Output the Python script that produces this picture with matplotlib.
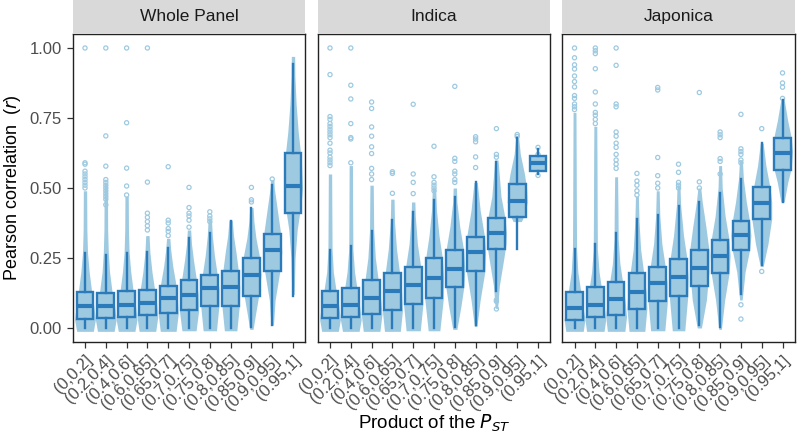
import matplotlib
matplotlib.use("Agg")
import matplotlib.pyplot as plt
import numpy as np

plt.rcParams['font.family'] = ['Liberation Sans', 'DejaVu Sans']

panels = ["Whole Panel", "Indica", "Japonica"]
cats = ["(0,0.2]", "(0.2,0.4]", "(0.4,0.6]", "(0.6,0.65]", "(0.65,0.7]", "(0.7,0.75]",
        "(0.75,0.8]", "(0.8,0.85]", "(0.85,0.9]", "(0.9,0.95]", "(0.95,1]"]

# box stats per panel
q1 = [[0.033, 0.035, 0.039, 0.045, 0.053, 0.065, 0.077, 0.077, 0.115, 0.202, 0.412],
      [0.036, 0.041, 0.050, 0.065, 0.087, 0.107, 0.148, 0.202, 0.283, 0.398, 0.561],
      [0.030, 0.039, 0.047, 0.068, 0.095, 0.113, 0.151, 0.196, 0.279, 0.390, 0.566]]
med = [[0.077, 0.077, 0.082, 0.091, 0.107, 0.119, 0.142, 0.145, 0.190, 0.277, 0.507],
       [0.079, 0.083, 0.107, 0.133, 0.152, 0.178, 0.212, 0.271, 0.338, 0.453, 0.588],
       [0.071, 0.082, 0.103, 0.127, 0.160, 0.182, 0.216, 0.258, 0.333, 0.447, 0.626]]
q3 = [[0.128, 0.125, 0.133, 0.136, 0.151, 0.170, 0.190, 0.205, 0.250, 0.335, 0.626],
      [0.133, 0.142, 0.170, 0.198, 0.219, 0.249, 0.279, 0.326, 0.392, 0.514, 0.614],
      [0.130, 0.145, 0.166, 0.196, 0.219, 0.246, 0.279, 0.315, 0.383, 0.505, 0.677]]
wlo = [[0.0, 0.0, 0.0, 0.0, 0.0, 0.0, 0.0, 0.0, 0.004, 0.012, 0.116],
       [0.0, 0.0, 0.0, 0.0, 0.0, 0.0, 0.004, 0.012, 0.133, 0.283, 0.550],
       [0.0, 0.0, 0.0, 0.0, 0.0, 0.0, 0.010, 0.004, 0.122, 0.225, 0.449]]
whi = [[0.267, 0.259, 0.267, 0.271, 0.285, 0.320, 0.340, 0.383, 0.427, 0.510, 0.944],
       [0.277, 0.293, 0.348, 0.386, 0.415, 0.457, 0.469, 0.522, 0.594, 0.677, 0.641],
       [0.281, 0.300, 0.341, 0.388, 0.404, 0.436, 0.451, 0.481, 0.531, 0.659, 0.813]]

outliers = [
    [[1.0, 0.59, 0.585, 0.56, 0.55, 0.54, 0.53, 0.52, 0.51, 0.50],
     [1.0, 0.686, 0.578, 0.53, 0.52, 0.51, 0.50, 0.49, 0.48, 0.47, 0.46, 0.44],
     [1.0, 0.733, 0.571, 0.507, 0.475],
     [1.0, 0.521, 0.41, 0.395, 0.38, 0.365, 0.35],
     [0.576, 0.385, 0.375, 0.355, 0.345, 0.33],
     [0.502, 0.43, 0.41, 0.40, 0.385, 0.36],
     [0.415, 0.40, 0.39, 0.38],
     [],
     [0.502, 0.458, 0.45],
     [0.532],
     []],
    [[1.0, 0.905, 0.755, 0.745, 0.73, 0.72, 0.71, 0.70, 0.69, 0.68, 0.66, 0.635, 0.625, 0.61, 0.60, 0.59, 0.58],
     [1.0, 0.867, 0.818, 0.73, 0.68, 0.675, 0.59],
     [0.807, 0.784, 0.718, 0.685, 0.647, 0.623, 0.57, 0.55, 0.53],
     [0.558, 0.552, 0.481],
     [0.799, 0.55, 0.52, 0.48],
     [0.649, 0.54, 0.52, 0.51, 0.50, 0.49],
     [0.863, 0.606, 0.595, 0.56, 0.55, 0.53, 0.52],
     [0.683, 0.675, 0.665, 0.611, 0.573],
     [0.712, 0.62, 0.61, 0.10, 0.095, 0.068],
     [0.691, 0.684],
     [0.645, 0.62, 0.60, 0.565, 0.545]],
    [[1.0, 0.965, 0.94, 0.925, 0.90, 0.88, 0.861, 0.83, 0.82, 0.80, 0.79, 0.78],
     [1.0, 0.99, 0.98, 0.926, 0.843, 0.80, 0.77, 0.76, 0.745, 0.73],
     [1.0, 0.938, 0.80, 0.79, 0.70, 0.685, 0.66, 0.645, 0.62, 0.60, 0.585, 0.57],
     [0.552, 0.525, 0.51, 0.49, 0.475],
     [0.859, 0.85, 0.609, 0.544, 0.517, 0.50],
     [0.585, 0.556, 0.52, 0.51, 0.50],
     [0.841, 0.522, 0.50],
     [0.70, 0.69, 0.68, 0.605, 0.595, 0.55],
     [0.763, 0.64, 0.63, 0.62, 0.60, 0.59, 0.083, 0.032],
     [0.712, 0.202],
     [0.911, 0.875, 0.86, 0.82]],
]

# violin outlines: value levels and half widths
viol_y = [
    [[-0.012, 0.03, 0.08, 0.13, 0.2, 0.27, 0.35, 0.49],
     [-0.012, 0.03, 0.08, 0.13, 0.2, 0.27, 0.35, 0.52],
     [-0.012, 0.03, 0.08, 0.13, 0.2, 0.27, 0.35, 0.47],
     [-0.012, 0.04, 0.09, 0.14, 0.2, 0.27, 0.33],
     [-0.012, 0.05, 0.11, 0.16, 0.22, 0.28, 0.32],
     [-0.01, 0.06, 0.12, 0.17, 0.24, 0.30, 0.35],
     [-0.01, 0.08, 0.14, 0.19, 0.26, 0.33, 0.39],
     [-0.01, 0.08, 0.145, 0.20, 0.27, 0.33, 0.385],
     [-0.005, 0.05, 0.12, 0.19, 0.25, 0.32, 0.38, 0.43],
     [0.01, 0.10, 0.20, 0.27, 0.33, 0.42, 0.50, 0.53],
     [0.12, 0.25, 0.35, 0.45, 0.50, 0.60, 0.70, 0.80, 0.90, 0.97]],
    [[-0.012, 0.03, 0.08, 0.13, 0.2, 0.28, 0.4, 0.55],
     [-0.012, 0.03, 0.08, 0.14, 0.2, 0.28, 0.4, 0.58],
     [-0.012, 0.05, 0.10, 0.17, 0.25, 0.35, 0.51],
     [-0.012, 0.06, 0.13, 0.20, 0.28, 0.38, 0.46],
     [-0.01, 0.08, 0.15, 0.22, 0.30, 0.40, 0.45],
     [-0.01, 0.10, 0.18, 0.25, 0.33, 0.42, 0.50],
     [-0.005, 0.08, 0.15, 0.21, 0.28, 0.36, 0.45, 0.50],
     [0.005, 0.10, 0.20, 0.27, 0.33, 0.42, 0.52],
     [0.07, 0.15, 0.25, 0.30, 0.34, 0.39, 0.47, 0.60],
     [0.38, 0.41, 0.45, 0.50, 0.55, 0.62, 0.68],
     [0.55, 0.64]],
    [[-0.012, 0.03, 0.07, 0.13, 0.2, 0.28, 0.4, 0.6, 0.77],
     [-0.012, 0.03, 0.08, 0.14, 0.2, 0.28, 0.4, 0.6, 0.72],
     [-0.012, 0.04, 0.09, 0.16, 0.23, 0.32, 0.42, 0.54],
     [-0.012, 0.07, 0.13, 0.20, 0.28, 0.38, 0.47],
     [-0.01, 0.09, 0.16, 0.22, 0.30, 0.40, 0.49],
     [-0.01, 0.11, 0.18, 0.25, 0.33, 0.44, 0.51],
     [0.0, 0.10, 0.20, 0.28, 0.36, 0.45, 0.50],
     [-0.005, 0.10, 0.20, 0.26, 0.32, 0.40, 0.50, 0.58],
     [0.10, 0.20, 0.28, 0.33, 0.38, 0.45, 0.53, 0.60],
     [0.22, 0.30, 0.39, 0.45, 0.50, 0.58, 0.66],
     [0.45, 0.52, 0.57, 0.63, 0.68, 0.74, 0.82]],
]
viol_w = [
    [[0.40, 0.5, 0.42, 0.32, 0.2, 0.12, 0.09, 0.08],
     [0.40, 0.5, 0.42, 0.30, 0.18, 0.12, 0.09, 0.08],
     [0.40, 0.5, 0.43, 0.32, 0.2, 0.12, 0.09, 0.08],
     [0.40, 0.5, 0.44, 0.34, 0.22, 0.12, 0.08],
     [0.38, 0.48, 0.44, 0.36, 0.22, 0.12, 0.08],
     [0.34, 0.46, 0.44, 0.36, 0.22, 0.12, 0.08],
     [0.32, 0.44, 0.44, 0.36, 0.22, 0.12, 0.08],
     [0.30, 0.42, 0.44, 0.38, 0.26, 0.14, 0.08],
     [0.08, 0.2, 0.36, 0.46, 0.40, 0.22, 0.12, 0.08],
     [0.06, 0.14, 0.36, 0.46, 0.42, 0.25, 0.1, 0.08],
     [0.06, 0.1, 0.2, 0.40, 0.46, 0.40, 0.25, 0.15, 0.09, 0.08]],
    [[0.40, 0.5, 0.42, 0.30, 0.16, 0.1, 0.09, 0.08],
     [0.40, 0.5, 0.42, 0.30, 0.18, 0.1, 0.09, 0.08],
     [0.40, 0.5, 0.44, 0.32, 0.18, 0.1, 0.08],
     [0.38, 0.48, 0.44, 0.34, 0.2, 0.1, 0.08],
     [0.34, 0.46, 0.45, 0.36, 0.2, 0.1, 0.08],
     [0.28, 0.44, 0.46, 0.40, 0.24, 0.12, 0.08],
     [0.10, 0.30, 0.44, 0.48, 0.42, 0.24, 0.1, 0.08],
     [0.06, 0.22, 0.44, 0.48, 0.42, 0.22, 0.08],
     [0.06, 0.14, 0.36, 0.46, 0.48, 0.42, 0.22, 0.08],
     [0.20, 0.38, 0.48, 0.45, 0.35, 0.15, 0.07],
     [0.04, 0.04]],
    [[0.42, 0.5, 0.42, 0.30, 0.16, 0.1, 0.09, 0.08, 0.07],
     [0.42, 0.5, 0.42, 0.30, 0.18, 0.1, 0.09, 0.08, 0.07],
     [0.42, 0.5, 0.44, 0.32, 0.18, 0.1, 0.09, 0.07],
     [0.38, 0.48, 0.44, 0.32, 0.18, 0.1, 0.07],
     [0.34, 0.46, 0.45, 0.36, 0.2, 0.1, 0.07],
     [0.30, 0.44, 0.46, 0.40, 0.24, 0.1, 0.07],
     [0.10, 0.34, 0.46, 0.46, 0.32, 0.14, 0.07],
     [0.06, 0.22, 0.44, 0.48, 0.42, 0.24, 0.1, 0.07],
     [0.06, 0.20, 0.42, 0.48, 0.42, 0.26, 0.12, 0.07],
     [0.07, 0.30, 0.48, 0.48, 0.40, 0.20, 0.07],
     [0.08, 0.25, 0.42, 0.48, 0.42, 0.25, 0.07]],
]

light = "#9ecae1"
dark = "#2b7bba"

fig = plt.figure(figsize=(7.97, 4.38), dpi=100)
lefts = [0.091, 0.3984, 0.7052]
w, b, h = 0.2923, 0.2192, 0.7032
xs = np.arange(1, len(cats) + 1)

for p, name in enumerate(panels):
    ax = fig.add_axes([lefts[p], b, w, h])
    for i in range(len(cats)):
        vy = np.array(viol_y[p][i])
        vw = np.array(viol_w[p][i])
        ax.fill_betweenx(vy, xs[i] - vw, xs[i] + vw, color=light, lw=0, zorder=1)
        if outliers[p][i]:
            ax.scatter([xs[i]] * len(outliers[p][i]), outliers[p][i], s=9,
                       facecolors='none', edgecolors=light, linewidths=0.9, zorder=2)
    stats = [dict(med=med[p][i], q1=q1[p][i], q3=q3[p][i], whislo=wlo[p][i],
                  whishi=whi[p][i], fliers=[]) for i in range(len(cats))]
    ax.bxp(stats, positions=xs, widths=0.8, showcaps=False, showfliers=False,
           patch_artist=True, manage_ticks=False,
           boxprops=dict(facecolor=light, edgecolor=dark, linewidth=1.7),
           whiskerprops=dict(color=dark, linewidth=1.7),
           medianprops=dict(color=dark, linewidth=3))
    ax.set_xlim(0.4, 11.6)
    ax.set_ylim(-0.05, 1.05)
    ax.set_xticks(xs)
    ax.set_xticklabels(cats, rotation=45, ha='right', va='top', rotation_mode='anchor',
                       fontsize=12, color='#4d4d4d')
    ax.set_yticks([0, 0.25, 0.5, 0.75, 1.0])
    ax.tick_params(axis='both', color='#333333', length=4, width=0.9)
    if p == 0:
        ax.set_yticklabels(["0.00", "0.25", "0.50", "0.75", "1.00"], fontsize=12, color='#4d4d4d')
        ax.set_ylabel("Pearson correlation  ($r$)", fontsize=13, labelpad=5)
    else:
        ax.tick_params(axis='y', length=0, labelleft=False)
    for s in ax.spines.values():
        s.set_color('#222222')
        s.set_linewidth(1)
    # strip
    sax = fig.add_axes([lefts[p], b + h, w, 1 - b - h])
    sax.set_facecolor('#d9d9d9')
    sax.set_xticks([])
    sax.set_yticks([])
    for s in sax.spines.values():
        s.set_visible(False)
    sax.text(0.5, 0.5, name, ha='center', va='center', fontsize=12.5, color='#1a1a1a',
             transform=sax.transAxes)

fig.text(0.545, 0.01, "Product of the $P_{ST}$", ha='center', va='bottom', fontsize=13.5)
fig.savefig("out.png", dpi=100)
